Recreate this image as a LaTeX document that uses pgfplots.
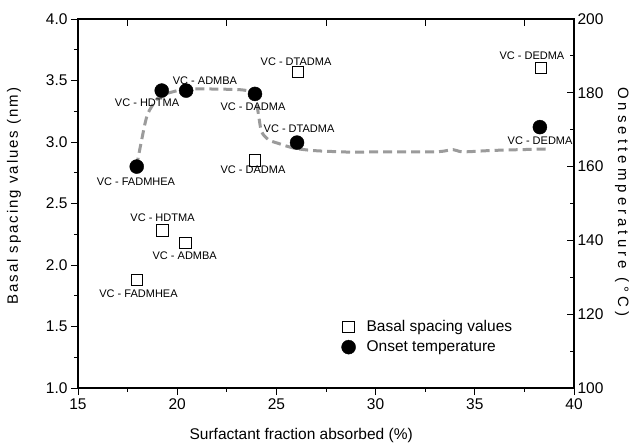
\documentclass[border=0pt]{standalone}
\usepackage{fontspec}
\setmainfont{Liberation Sans}
\usepackage{pgfplots}
\pgfplotsset{compat=1.18}
\definecolor{curvegray}{RGB}{155,155,155}
\newcommand{\lbl}{\fontsize{11}{11}\selectfont}
\begin{document}
\begin{tikzpicture}
\pgfplotsset{
  every axis/.append style={
    scale only axis, width=496pt, height=369pt,
    xmin=15, xmax=40,
    axis line style={line width=1.1pt},
    tick style={line width=0.9pt, black},
    major tick length=7pt, minor tick length=4pt,
    tick label style={font=\fontsize{15.5}{15.5}\selectfont},
    /pgf/number format/assume math mode=true,
  },
}
% left axis: basal spacing
\begin{axis}[
  at={(0,0)}, anchor=south west,
  ymin=1, ymax=4,
  xtick={15,20,...,40}, minor x tick num=1,
  ytick={1,1.5,...,4}, minor y tick num=1,
  xtick pos=bottom, ytick pos=left, tick align=outside,
  yticklabel style={/pgf/number format/.cd, fixed, fixed zerofill, precision=1},
  xlabel={Surfactant fraction absorbed (\%)},
  ylabel={Basal spacing values (nm)},
  xlabel style={font=\fontsize{15.5}{15.5}\selectfont, at={(axis description cs:0.45,-0.13)}, anchor=center},
  ylabel style={font=\fontsize{15}{15}\selectfont\addfontfeature{LetterSpace=13}, at={(axis description cs:-0.129,0.52)}, anchor=center},
]
\addplot[only marks, mark=square, mark size=5.6pt, mark options={line width=1pt, fill=white}, black]
  coordinates {(17.96,1.88) (19.26,2.28) (20.42,2.18) (23.94,2.85) (26.1,3.57) (38.33,3.60)};
\node[font=\lbl] at (axis cs:25.99,3.653) {VC - DTADMA};
\node[font=\lbl] at (axis cs:23.82,2.772) {VC - DADMA};
\node[font=\lbl] at (axis cs:37.88,3.70) {VC - DEDMA};
\node[font=\lbl] at (axis cs:19.26,2.388) {VC - HDTMA};
\node[font=\lbl] at (axis cs:20.38,2.073) {VC - ADMBA};
\node[font=\lbl] at (axis cs:18.05,1.764) {VC - FADMHEA};
\end{axis}
% right axis: onset temperature
\begin{axis}[
  at={(0,0)}, anchor=south west,
  ymin=100, ymax=200,
  axis x line*=top, axis y line*=right,
  xtick={17.5,22.5,...,37.5}, xticklabels={},
  ytick={100,120,...,200}, minor y tick num=1,
  tick align=inside,
  ylabel={Onsettemperature (\textdegree C)},
  ylabel style={font=\fontsize{15}{15}\selectfont\addfontfeature{LetterSpace=27}, at={(axis description cs:1.097,0.505)}, anchor=center, rotate=180},
  legend style={at={(axis description cs:0.525,0.195)}, anchor=north west, draw=none, fill=none,
    font=\fontsize{15.5}{15.5}\selectfont, row sep=4pt,
    /tikz/every odd column/.append style={column sep=9pt}},
  legend cell align=left,
]
\addlegendimage{only marks, mark=square, mark size=5.6pt, mark options={line width=1pt}, black}
\addlegendentry{Basal spacing values}
\addplot[curvegray, line width=3pt, dash pattern=on 9pt off 5pt, smooth, tension=0.5, forget plot]
  coordinates {(17.95,160) (18.2,167) (18.47,173.6) (18.8,177) (19.14,179.1) (19.8,180.3)
    (20.5,181) (22,181) (23.5,180.6) (23.94,178.2) (24.1,174) (24.25,169.5) (24.6,167.3)
    (25.03,166.4) (25.9,165) (27,164.3) (28.9,163.9) (30,164) (33,164) (33.9,164.6)
    (34.4,164) (36,164.4) (38.8,164.8)};
\addplot[only marks, mark=*, mark size=7pt, black]
  coordinates {(17.96,160) (19.22,180.6) (20.45,180.6) (23.92,179.7) (26.04,166.5) (38.28,170.7)};
\addlegendentry{Onset temperature}
\node[font=\lbl] at (axis cs:17.92,155.8) {VC - FADMHEA};
\node[font=\lbl] at (axis cs:18.48,177.2) {VC - HDTMA};
\node[font=\lbl] at (axis cs:21.40,183.4) {VC - ADMBA};
\node[font=\lbl] at (axis cs:23.82,176.2) {VC - DADMA};
\node[font=\lbl] at (axis cs:26.14,170.2) {VC - DTADMA};
\node[font=\lbl] at (axis cs:38.29,166.9) {VC - DEDMA};
\end{axis}
\pgfresetboundingbox
\useasboundingbox (-78pt,-56pt) rectangle (554pt,388pt);
\end{tikzpicture}
\end{document}
